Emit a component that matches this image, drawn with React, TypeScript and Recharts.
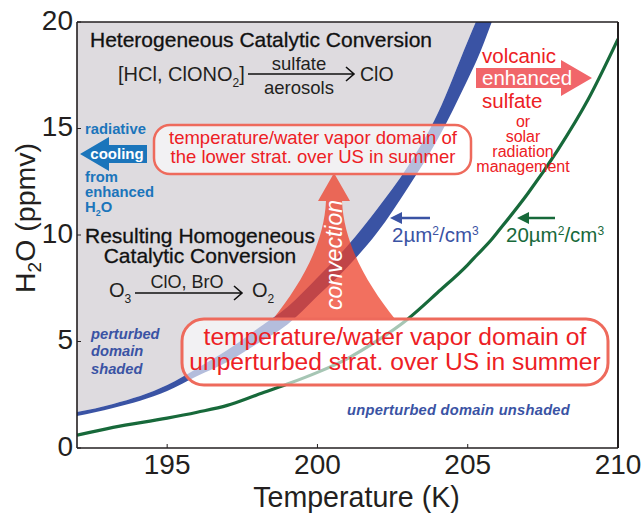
import React from 'react';
import { ComposedChart, Area, Line, XAxis, YAxis } from 'recharts';

const temps = [192, 193.2, 195, 196, 197, 198, 199, 200, 201, 202, 203, 204, 205, 205.3, 205.8, 206, 207, 208, 209, 210];
const bandLow = [1.5, 1.88, 2.68, 3.38, 4.04, 4.9, 5.8, 7.14, 8.5, 10.14, 12.2, 14.5, 17.3, 18.2, 20];
const bandHigh = [1.69, 2.07, 2.96, 3.75, 4.6, 5.6, 6.62, 8.0, 9.5, 11.25, 13.2, 15.7, 19.1, 20.1, 21.6];
const green = [0.6, 0.97, 1.4, 1.68, 2.0, 2.5, 3.0, 3.55, 4.2, 5.05, 6.05, 7.3, 8.6, 9.05, 9.8, 10.15, 11.95, 14.0, 16.35, 19.2];
const xTicks = [195, 200, 205, 210];
const yTicks = [0, 5, 10, 15, 20];

const data = temps.map((t, i) => ({ t, low: bandLow[i], high: bandHigh[i], green: green[i] }));

const FONT = '"Liberation Sans", Arial, sans-serif';
const BLACK = '#231f20';
const BLUE = '#3a53a4';
const SKY = '#1b75bb';
const GREEN = '#17693a';
const RED = '#ed2024';
const BOX = '#ee6a5c';
const tick = { fontSize: 28, fill: BLACK, fontFamily: FONT };

const bandRange = (d: any) => (d.low == null ? null : [d.low, d.high]);
const grayRange = (d: any) => (d.high == null ? null : [d.high, 20]);

const Overlay = () => (
  <svg width={642} height={513} style={{ position: 'absolute', left: 0, top: 0 }} fontFamily={FONT}>
    {/* axis title */}
    <text transform="translate(35,218) rotate(-90)" textAnchor="middle" fontSize={28.5} fill={BLACK}>
      H<tspan dy={6} fontSize={19}>2</tspan><tspan dy={-6}>O (ppmv)</tspan>
    </text>

    {/* convection arrow */}
    <path
      d="M334 173 L350 201 L342 201 C344 245 368 285 395 319 L273 319 C300 285 324 245 326 201 L318 201 Z"
      fill="#ed402a"
      opacity={0.75}
    />
    <text transform="translate(342,255) rotate(-90)" textAnchor="middle" fontSize={23} fontStyle="italic" fill="#fff">
      convection
    </text>

    {/* domain boxes */}
    <rect x={154} y={125} width={317} height={49} rx={16} fill="#fff" fillOpacity={0.62} stroke={BOX} strokeWidth={2.5} />
    <text x={313} y={144} textAnchor="middle" fontSize={18.5} fill={RED}>temperature/water vapor domain of</text>
    <text x={313} y={163} textAnchor="middle" fontSize={18.5} fill={RED}>the lower strat. over US in summer</text>

    <rect x={182} y={319} width={426} height={66} rx={22} fill="#fff" fillOpacity={0.62} stroke={BOX} strokeWidth={3} />
    <text x={395} y={345} textAnchor="middle" fontSize={24.6} fill={RED}>temperature/water vapor domain of</text>
    <text x={395} y={370} textAnchor="middle" fontSize={24.6} fill={RED}>unperturbed strat. over US in summer</text>

    {/* heterogeneous */}
    <text x={90} y={47} fontSize={21} fill="#111" stroke="#111" strokeWidth={0.3}>Heterogeneous Catalytic Conversion</text>
    <text x={118} y={81} fontSize={20} fill={BLACK}>[HCl, ClONO<tspan dy={6} fontSize={12}>2</tspan><tspan dy={-6}>]</tspan></text>
    <path d="M248 74 L354 74 M346 67 L354 74 L346 81" fill="none" stroke="#111" strokeWidth={1.6} />
    <text x={299} y={70} textAnchor="middle" fontSize={18.5} fill={BLACK}>sulfate</text>
    <text x={299} y={94} textAnchor="middle" fontSize={18.5} fill={BLACK}>aerosols</text>
    <text x={360} y={81} fontSize={19.5} fill={BLACK}>ClO</text>

    {/* radiative cooling */}
    <path d="M80 154 L109 137 L109 145 L147 145 L147 163 L109 163 L109 171 Z" fill={SKY} />
    <g fontWeight="bold" fill={SKY} fontSize={14.8}>
      <text x={85} y={134}>radiative</text>
      <text x={85} y={182}>from</text>
      <text x={85} y={197}>enhanced</text>
      <text x={85} y={212}>H<tspan dy={4} fontSize={9}>2</tspan><tspan dy={-4}>O</tspan></text>
    </g>
    <text x={117} y={159} textAnchor="middle" fontWeight="bold" fontSize={15} fill="#fff">cooling</text>

    {/* homogeneous */}
    <text x={200} y={243} textAnchor="middle" fontSize={21} fill="#111" stroke="#111" strokeWidth={0.3}>Resulting Homogeneous</text>
    <text x={200} y={263} textAnchor="middle" fontSize={21} fill="#111" stroke="#111" strokeWidth={0.3}>Catalytic Conversion</text>
    <text x={109} y={297} fontSize={20} fill={BLACK}>O<tspan dy={6} fontSize={12}>3</tspan></text>
    <path d="M135 293 L242 293 M234 286 L242 293 L234 300" fill="none" stroke="#111" strokeWidth={1.6} />
    <text x={187} y={288} textAnchor="middle" fontSize={18} fill={BLACK}>ClO, BrO</text>
    <text x={252} y={297} fontSize={20} fill={BLACK}>O<tspan dy={6} fontSize={12}>2</tspan></text>

    {/* domain notes */}
    <g fontWeight="bold" fontStyle="italic" fontSize={14.7} fill={BLUE}>
      <text x={91} y={339}>perturbed</text>
      <text x={91} y={356}>domain</text>
      <text x={91} y={374}>shaded</text>
      <text x={347} y={415} letterSpacing={0.25}>unperturbed domain unshaded</text>
    </g>

    {/* volcanic arrow */}
    <path d="M476 68 L561 68 L561 60 L592 78 L561 96 L561 88 L476 88 Z" fill="#f1666a" />
    <text x={482} y={63} fontSize={20.5} fill={RED}>volcanic</text>
    <text x={482} y={85} fontSize={20.5} fill="#fff">enhanced</text>
    <text x={482} y={108} fontSize={20.5} fill={RED}>sulfate</text>
    <g textAnchor="middle" fontSize={16} fill={RED}>
      <text x={523} y={127}>or</text>
      <text x={523} y={142}>solar</text>
      <text x={523} y={157}>radiation</text>
      <text x={523} y={172}>management</text>
    </g>

    {/* surface area labels */}
    <path d="M430 218 L400 218" stroke={BLUE} strokeWidth={2.5} />
    <path d="M390 218 L402 212 L402 224 Z" fill={BLUE} />
    <text x={392} y={242} fontSize={20.5} fill={BLUE}>
      2µm<tspan dy={-7} fontSize={12}>2</tspan><tspan dy={7}>/cm</tspan><tspan dy={-7} fontSize={12}>3</tspan>
    </text>
    <path d="M555 218 L527 218" stroke={GREEN} strokeWidth={2.5} />
    <path d="M517 218 L529 212 L529 224 Z" fill={GREEN} />
    <text x={506} y={242} fontSize={20.5} fill={GREEN}>
      20µm<tspan dy={-7} fontSize={12}>2</tspan><tspan dy={7}>/cm</tspan><tspan dy={-7} fontSize={12}>3</tspan>
    </text>
  </svg>
);

export default function App() {
  return (
    <div style={{ position: 'absolute', left: 0, top: 0, width: 642, height: 513, background: '#fff', overflow: 'hidden' }}>
      <ComposedChart width={642} height={513} data={data} margin={{ top: 21, right: 23, bottom: 0, left: 28 }}>
        <XAxis
          dataKey="t"
          type="number"
          domain={[192, 210]}
          ticks={xTicks}
          interval={0}
          allowDataOverflow
          height={65}
          tickSize={-4}
          tickMargin={10}
          tick={tick}
          axisLine={{ stroke: BLACK, strokeWidth: 1.6 }}
          tickLine={{ stroke: BLACK }}
          label={{ value: 'Temperature (K)', position: 'insideBottom', offset: 6, dx: 9, fontSize: 28.6, fill: BLACK, fontFamily: FONT }}
        />
        <XAxis
          xAxisId="top"
          orientation="top"
          dataKey="t"
          type="number"
          domain={[192, 210]}
          ticks={xTicks}
          height={1}
          tickSize={-4}
          tick={false}
          axisLine={{ stroke: BLACK, strokeWidth: 1.6 }}
          tickLine={{ stroke: BLACK }}
        />
        <YAxis
          type="number"
          domain={[0, 20]}
          ticks={yTicks}
          interval={0}
          allowDataOverflow
          width={49}
          tickSize={-4}
          tickMargin={8}
          tick={{ ...tick, dy: -2 }}
          axisLine={{ stroke: BLACK, strokeWidth: 1.6 }}
          tickLine={{ stroke: BLACK }}
        />
        <YAxis
          yAxisId="right"
          orientation="right"
          type="number"
          domain={[0, 20]}
          ticks={yTicks}
          width={1}
          tickSize={-4}
          tick={false}
          axisLine={{ stroke: BLACK, strokeWidth: 2 }}
          tickLine={{ stroke: BLACK }}
        />
        <Area dataKey={grayRange} type="monotone" fill="#dedbdf" fillOpacity={1} stroke="none" dot={false} activeDot={false} isAnimationActive={false} />
        <Area dataKey={bandRange} type="monotone" fill={BLUE} fillOpacity={1} stroke="none" dot={false} activeDot={false} isAnimationActive={false} />
        <Line dataKey="green" type="monotone" stroke={GREEN} strokeWidth={3.2} dot={false} activeDot={false} isAnimationActive={false} />
      </ComposedChart>
      <Overlay />
    </div>
  );
}
